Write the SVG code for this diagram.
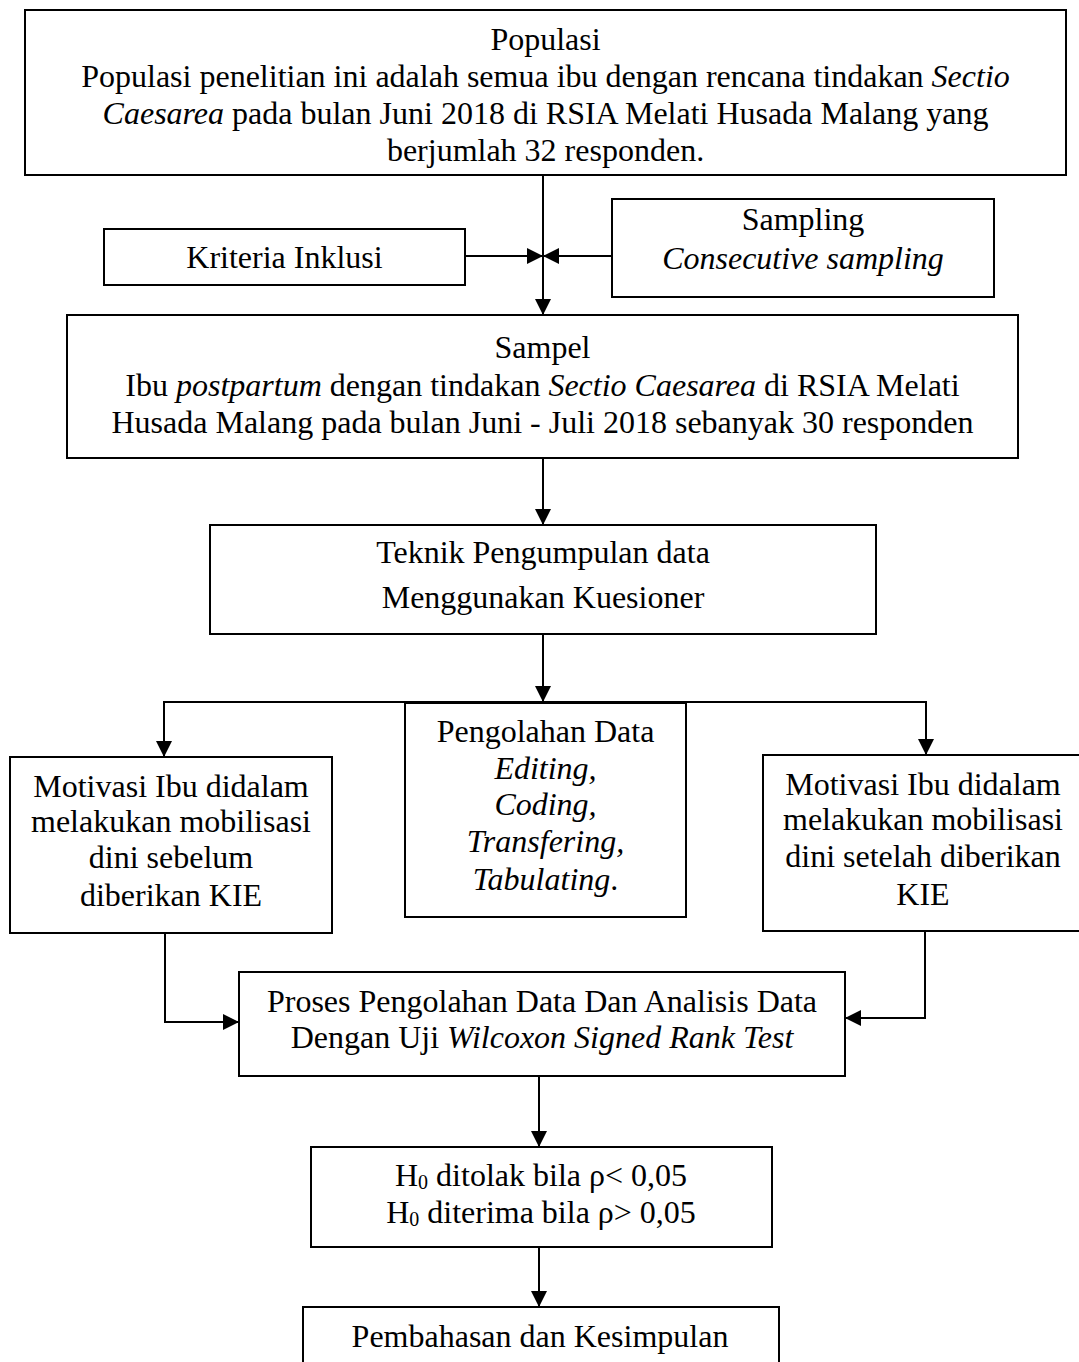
<svg xmlns="http://www.w3.org/2000/svg" width="1079" height="1362" viewBox="0 0 1079 1362">
<defs>
<style>
.box{fill:#fff;stroke:#000;stroke-width:2}
.t{font-family:"Liberation Serif","Times New Roman",serif;font-size:32px;fill:#000;text-anchor:middle}
.i{font-style:italic}
.c{fill:none;stroke:#000;stroke-width:2}
</style>
<marker id="ah" markerUnits="userSpaceOnUse" markerWidth="16" markerHeight="16" refX="16" refY="8" orient="auto">
<path d="M0,0 L16,8 L0,16 z" fill="#000"/>
</marker>
</defs>
<rect width="1079" height="1362" fill="#fff"/>
<g id="connectors">
<line class="c" x1="543" y1="175" x2="543" y2="315" marker-end="url(#ah)"/>
<line class="c" x1="465" y1="256" x2="543" y2="256" marker-end="url(#ah)"/>
<line class="c" x1="612" y1="256" x2="543" y2="256" marker-end="url(#ah)"/>
<line class="c" x1="543" y1="458" x2="543" y2="525" marker-end="url(#ah)"/>
<line class="c" x1="543" y1="634" x2="543" y2="702" marker-end="url(#ah)"/>
<polyline class="c" points="164,756 164,702 926,702 926,754"/>
<line class="c" x1="164" y1="740" x2="164" y2="757" marker-end="url(#ah)"/>
<line class="c" x1="926" y1="740" x2="926" y2="755" marker-end="url(#ah)"/>
<polyline class="c" points="165,933 165,1022 239,1022" marker-end="url(#ah)"/>
<polyline class="c" points="925,931 925,1018 845,1018" marker-end="url(#ah)"/>
<line class="c" x1="539" y1="1076" x2="539" y2="1147" marker-end="url(#ah)"/>
<line class="c" x1="539" y1="1247" x2="539" y2="1307" marker-end="url(#ah)"/>
</g>
<g id="populasi">
<rect class="box" x="25" y="10" width="1041" height="165"/>
<text class="t" x="545.5" y="50">Populasi</text>
<text class="t" x="545.5" y="87">Populasi penelitian ini adalah semua ibu dengan rencana tindakan <tspan class="i">Sectio</tspan></text>
<text class="t" x="545.5" y="124"><tspan class="i">Caesarea</tspan> pada bulan Juni 2018 di RSIA Melati Husada Malang yang</text>
<text class="t" x="545.5" y="161">berjumlah 32 responden.</text>
</g>
<g id="kriteria">
<rect class="box" x="104" y="229" width="361" height="56"/>
<text class="t" x="284.5" y="268">Kriteria Inklusi</text>
</g>
<g id="sampling">
<rect class="box" x="612" y="199" width="382" height="98"/>
<text class="t" x="803" y="230">Sampling</text>
<text class="t i" x="803" y="269">Consecutive sampling</text>
</g>
<g id="sampel">
<rect class="box" x="67" y="315" width="951" height="143"/>
<text class="t" x="542.5" y="358">Sampel</text>
<text class="t" x="542.5" y="396">Ibu <tspan class="i">postpartum</tspan> dengan tindakan <tspan class="i">Sectio Caesarea</tspan> di RSIA Melati</text>
<text class="t" x="542.5" y="433">Husada Malang pada bulan Juni - Juli 2018 sebanyak 30 responden</text>
</g>
<g id="teknik">
<rect class="box" x="210" y="525" width="666" height="109"/>
<text class="t" x="543" y="563">Teknik Pengumpulan data</text>
<text class="t" x="543" y="608">Menggunakan Kuesioner</text>
</g>
<g id="motivasi-sebelum">
<rect class="box" x="10" y="757" width="322" height="176"/>
<text class="t" x="171" y="797">Motivasi Ibu didalam</text>
<text class="t" x="171" y="832">melakukan mobilisasi</text>
<text class="t" x="171" y="868">dini sebelum</text>
<text class="t" x="171" y="906">diberikan KIE</text>
</g>
<g id="pengolahan">
<rect class="box" x="405" y="703" width="281" height="214"/>
<text class="t" x="545.5" y="742">Pengolahan Data</text>
<text class="t i" x="545.5" y="779">Editing,</text>
<text class="t i" x="545.5" y="815">Coding,</text>
<text class="t i" x="545.5" y="852">Transfering,</text>
<text class="t" x="545.5" y="890"><tspan class="i">Tabulating</tspan>.</text>
</g>
<g id="motivasi-setelah">
<rect class="box" x="763" y="755" width="320" height="176"/>
<text class="t" x="923" y="795">Motivasi Ibu didalam</text>
<text class="t" x="923" y="830">melakukan mobilisasi</text>
<text class="t" x="923" y="867">dini setelah diberikan</text>
<text class="t" x="923" y="905">KIE</text>
</g>
<g id="proses">
<rect class="box" x="239" y="972" width="606" height="104"/>
<text class="t" x="542" y="1012">Proses Pengolahan Data Dan Analisis Data</text>
<text class="t" x="542" y="1048">Dengan Uji <tspan class="i">Wilcoxon Signed Rank Test</tspan></text>
</g>
<g id="hipotesis">
<rect class="box" x="311" y="1147" width="461" height="100"/>
<text class="t" x="541" y="1186">H<tspan font-size="20" dy="3">0</tspan><tspan dy="-3"> ditolak bila ρ&lt; 0,05</tspan></text>
<text class="t" x="541" y="1223">H<tspan font-size="20" dy="3">0</tspan><tspan dy="-3"> diterima bila ρ&gt; 0,05</tspan></text>
</g>
<g id="pembahasan">
<rect class="box" x="303" y="1307" width="476" height="80"/>
<text class="t" x="540" y="1347">Pembahasan dan Kesimpulan</text>
</g>
</svg>
